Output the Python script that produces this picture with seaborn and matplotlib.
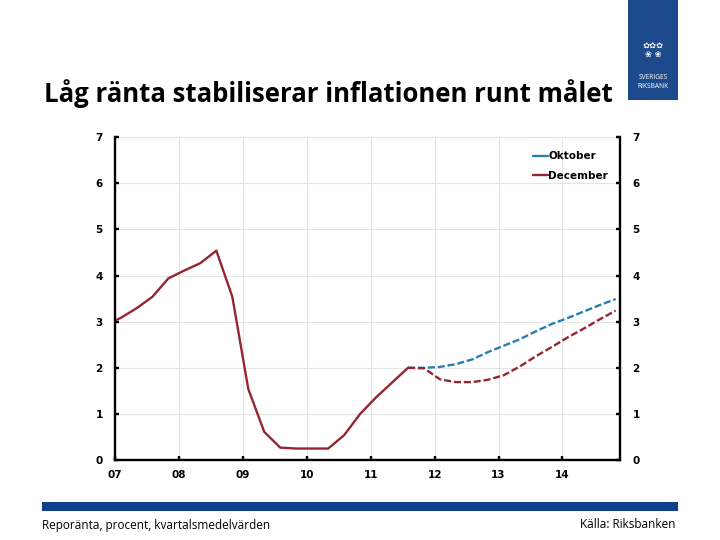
import matplotlib
matplotlib.use("Agg")
import matplotlib.pyplot as plt
import seaborn as sns
import pandas as pd
from matplotlib.patches import Rectangle
from matplotlib.lines import Line2D

# ---- data (quarterly averages, repo rate %) ----
hist_quarters = ["2006Q4",
                 "2007Q1", "2007Q2", "2007Q3", "2007Q4",
                 "2008Q1", "2008Q2", "2008Q3", "2008Q4",
                 "2009Q1", "2009Q2", "2009Q3", "2009Q4",
                 "2010Q1", "2010Q2", "2010Q3", "2010Q4",
                 "2011Q1", "2011Q2", "2011Q3"]
hist_values = [2.92,
               3.08, 3.29, 3.54, 3.94,
               4.11, 4.27, 4.54, 3.54,
               1.54, 0.61, 0.27, 0.25,
               0.25, 0.25, 0.54, 1.00,
               1.36, 1.68, 2.00]

fc_quarters = ["2011Q3", "2011Q4",
               "2012Q1", "2012Q2", "2012Q3", "2012Q4",
               "2013Q1", "2013Q2", "2013Q3", "2013Q4",
               "2014Q1", "2014Q2", "2014Q3", "2014Q4"]
oktober = [2.00, 2.00, 2.02, 2.08, 2.18, 2.34, 2.48, 2.62, 2.79, 2.95, 3.08, 3.22, 3.36, 3.49]
december = [2.00, 1.99, 1.75, 1.69, 1.69, 1.74, 1.84, 2.03, 2.25, 2.45, 2.66, 2.85, 3.05, 3.24]

year_ticks = [2007, 2008, 2009, 2010, 2011, 2012, 2013, 2014]
year_labels = ["07", "08", "09", "10", "11", "12", "13", "14"]
y_ticks = [0, 1, 2, 3, 4, 5, 6, 7]

series_labels = ["Oktober", "December"]
title = "Låg ränta stabiliserar inflationen runt målet"
note_left = "Reporänta, procent, kvartalsmedelvärden"
note_right = "Källa: Riksbanken"


def qpos(q):
    y, k = q.split("Q")
    return int(y) + (int(k) - 1) / 4 + 1 / 12


df_hist = pd.DataFrame({"x": [qpos(q) for q in hist_quarters], "v": hist_values})
df_okt = pd.DataFrame({"x": [qpos(q) for q in fc_quarters], "v": oktober})
df_dec = pd.DataFrame({"x": [qpos(q) for q in fc_quarters], "v": december})

RED = "#962532"
BLUE = "#2A7DB3"
NAVY = "#103F8C"

sns.set_style("white")
plt.rcParams["font.family"] = ["DejaVu Sans"]
plt.rcParams["text.color"] = "black"

fig = plt.figure(figsize=(7.2, 5.4), dpi=100)
ax = fig.add_axes([0.160, 0.148, 0.701, 0.598])

lw = 1.7
dash = (3.0, 1.2)
sns.lineplot(data=df_okt, x="x", y="v", ax=ax, color=BLUE, lw=lw,
             legend=False, estimator=None, sort=False)
ax.lines[-1].set_dashes(dash)
sns.lineplot(data=df_dec, x="x", y="v", ax=ax, color=RED, lw=lw,
             legend=False, estimator=None, sort=False)
ax.lines[-1].set_dashes(dash)
sns.lineplot(data=df_hist, x="x", y="v", ax=ax, color=RED, lw=lw,
             legend=False, estimator=None, sort=False)

ax.set_xlim(2007, 2014.9)
ax.set_ylim(0, 7)
ax.set_xticks(year_ticks)
ax.set_xticklabels(year_labels)
ax.set_yticks(y_ticks)
ax.set_xlabel("")
ax.set_ylabel("")
ax.grid(True, color="#E4E4E4", lw=0.8)
ax.set_axisbelow(True)

for s in ["left", "right", "bottom"]:
    ax.spines[s].set_visible(True)
    ax.spines[s].set_color("black")
    ax.spines[s].set_linewidth(1.7)
ax.spines["top"].set_visible(False)

ax.tick_params(axis="y", which="both", left=True, right=True, labelleft=True,
               labelright=True, direction="in", length=3, width=1.7,
               labelsize=7.5, pad=9, colors="black")
ax.tick_params(axis="x", bottom=True, direction="in", length=3, width=1.7,
               labelsize=7.5, pad=7, colors="black")
for lab in ax.get_xticklabels():
    lab.set_fontweight("bold")
for t in ax.yaxis.get_major_ticks():
    t.label1.set_fontweight("bold")
    t.label2.set_fontweight("bold")

handles = [Line2D([0], [0], color=BLUE, lw=lw), Line2D([0], [0], color=RED, lw=lw)]
leg = ax.legend(handles, series_labels, loc="upper right", frameon=False,
                handlelength=1.4, handletextpad=0.05, labelspacing=0.9,
                bbox_to_anchor=(0.995, 0.985),
                prop={"weight": "bold", "size": 7.5})
for txt in leg.get_texts():
    txt.set_color("black")

# title
fig.text(0.061, 0.826, title, fontsize=18.5, fontweight="bold", color="black",
         family=["Open Sans", "DejaVu Sans"], ha="left", va="center")

# logo block
fig.patches.append(Rectangle((628 / 720, 1 - 100 / 540), 50 / 720, 100 / 540,
                             transform=fig.transFigure, facecolor="#1C4A8C",
                             edgecolor="none", zorder=0))
fig.text(653 / 720, 1 - 78 / 540, "SVERIGES", color="white", fontsize=4.8,
         ha="center", va="center", family=["Open Sans", "DejaVu Sans"])
fig.text(653 / 720, 1 - 86 / 540, "RIKSBANK", color="white", fontsize=4.8,
         ha="center", va="center", family=["Open Sans", "DejaVu Sans"])
fig.text(653 / 720, 1 - 50 / 540, "✿✿✿\n❀ ❀", color="white", fontsize=6,
         ha="center", va="center", family=["DejaVu Sans"], linespacing=0.9)

# bottom bar
fig.patches.append(Rectangle((42 / 720, 1 - 511 / 540), 636 / 720, 9 / 540,
                             transform=fig.transFigure, facecolor=NAVY,
                             edgecolor="none"))
fig.text(42 / 720, 1 - 525 / 540, note_left, fontsize=8.5, ha="left", va="center",
         color="black", family=["Open Sans", "DejaVu Sans"])
fig.text(676 / 720, 1 - 525 / 540, note_right, fontsize=8.5, ha="right", va="center",
         color="black", family=["Open Sans", "DejaVu Sans"])

fig.savefig("out.png", dpi=100)
